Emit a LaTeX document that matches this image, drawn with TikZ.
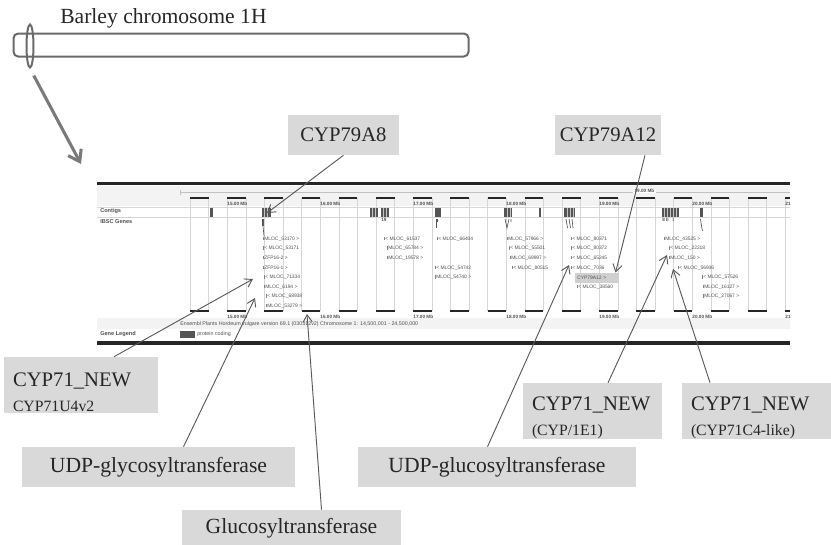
\documentclass[tikz,border=0pt]{standalone}
\usepackage{fontspec}
\setmainfont{Liberation Serif}
\newfontfamily\brfont{Liberation Sans}
\usetikzlibrary{arrows.meta,calc,shapes.geometric}
\newdimen\pxu
\pxu=0.75pt
\definecolor{boxgray}{HTML}{D9D9D9}
\definecolor{txtgray}{HTML}{262626}
\definecolor{linegray}{HTML}{5A5A5A}
\definecolor{gridgray}{HTML}{D6D6D6}
\definecolor{brtext}{HTML}{505050}
\definecolor{contig}{HTML}{555555}
\definecolor{chromgray}{HTML}{6A6A6A}
\definecolor{bandgray}{HTML}{F3F3F3}
\definecolor{hlgray}{HTML}{D0D0D0}
\newcommand\genelab[4]{%
  \draw[genetick] (#2-1.2,#3-2.2) -- (#2-1.2,#3+1.2);
  \node[gene] (#1) at (#2,#3) {#4};}
\begin{document}
\begin{tikzpicture}[x=0.75pt,y=-0.75pt,
  callout/.style={fill=boxgray, text=txtgray, inner sep=0pt, font=\fontsize{16.2}{19}\selectfont},
  cypfont/.style={font=\fontsize{15.5}{18}\selectfont},
  twoline/.style={fill=boxgray, text=txtgray, inner ysep=0pt, inner xsep=9\pxu, align=left, font=\fontsize{15.5}{18.5}\selectfont},
  conn/.style={draw=linegray, line width=0.7pt, -{Straight Barb[length=5.5pt,width=7pt,line width=0.7pt]}},
  gene/.style={font=\brfont\fontsize{3.7}{4}\selectfont, text=brtext, inner sep=0pt, anchor=west},
  genetick/.style={draw=brtext!70, line width=0.25pt},
  mblab/.style={font=\brfont\bfseries\fontsize{3.5}{4}\selectfont, text=brtext, inner sep=0pt, anchor=west},
  tracklab/.style={font=\brfont\bfseries\fontsize{4.2}{5}\selectfont, text=brtext, inner sep=0pt, anchor=west},
  scalebar/.style={draw=black!85, line width=2pt},
  frame/.style={draw=black!85, line width=2.3pt},
  genemark/.style={draw=contig, line width=0.5pt},
]
\useasboundingbox (0,0) rectangle (831,544);

% ---------- chromosome ----------
\node[anchor=base west, text=txtgray, inner sep=0pt, font=\fontsize{16.2}{19}\selectfont] (title) at (60,23) {Barley chromosome 1H};
\node[draw=chromgray, line width=1.5pt, rounded corners=3.5pt, minimum width=455\pxu, minimum height=23\pxu, inner sep=0pt] (chrom) at (241,45) {};
\node[draw=chromgray, line width=1.5pt, ellipse, minimum width=7\pxu, minimum height=43\pxu, inner sep=0pt] (locus) at (30,46) {};
\coordinate (zoomtip) at (81,164);
\draw[draw=chromgray!90, line width=2.3pt, -{Straight Barb[length=8pt,width=11pt,line width=2.3pt]}, shorten <=6pt] (locus.south) -- (zoomtip);

% ---------- genome browser ----------
\fill[bandgray] (97,186) rectangle (790,206);
\fill[bandgray] (97,318) rectangle (790,329);
\foreach \j in {0,...,32} \draw[gridgray, line width=0.35pt] ({190+18.6*\j},198) -- ({190+18.6*\j},311);
\draw[gridgray, line width=0.3pt] (97,207) -- (790,207) (97,217) -- (790,217);
\draw[gridgray!90!black, line width=0.4pt] (180,192) -- (790,192) (180,189.5) -- (180,194.5);
\node[mblab, fill=white, inner xsep=1pt] (mb19top) at (633,191) {19.00 Mb};

\foreach \yy in {198,311} {
  \foreach \k in {0,...,15} \draw[scalebar] ({190+37.2*\k},\yy) -- ({208.6+37.2*\k},\yy);
  \draw[scalebar] (785.2,\yy) -- (790,\yy);
}
\foreach \yy/\nm in {204/t,317/b} {
  \foreach \m in {0,...,5} {
    \pgfmathtruncatemacro\mbv{15+\m}
    \node[mblab] (mb\nm\m) at ({227.2+93*\m},\yy) {\mbv.00 Mb};
  }
  \node[mblab] (mb\nm6) at (785.2,\yy) {21};
}
\draw[frame] (97,183.5) -- (790,183.5);
\draw[frame] (97,343) -- (790,343);

\node[tracklab] (lcontigs) at (100,211.5) {Contigs};
\node[tracklab] (libsc) at (100,221.5) {IBSC Genes};
\node[tracklab] (llegend) at (100,334) {Gene Legend};

% contigs
\foreach \a/\b in {210/212.5, 262/271, 370/378, 381/389, 435/441, 504/512, 539/541, 564/575, 662/679, 700/703}
  \fill[contig] (\a,208) rectangle (\b,216.5);
\foreach \s in {264.5,267.5,372.5,375.5,383.5,386.5,507,510,567,570,573,664.5,667.5,670.5,673.5,676.5}
  \draw[white!65!contig, line width=0.45pt] (\s,208) -- (\s,216.5);

% IBSC gene marks
\fill[contig] (262,219) rectangle (264.2,226);
\draw[genemark] (263,226) -- (264,236);
\node[mblab] (n19) at (381,219.5) {19};
\draw[genemark] (436,219) -- (436,228) (437.8,219) -- (437.8,222);
\draw[genemark] (505,219) -- (507,228) -- (509,219) (511,219) -- (511,222);
\draw[genemark] (566,219) -- (567.5,228) (569,219) -- (570.5,228) (572,219) -- (573,228);
\node[mblab] (n8) at (662,219.5) {8 II\ \ \ I};
\draw[genemark] (700.5,219) -- (701.5,226) -- (702.5,231);

% gene labels
\genelab{ga1}{264}{239}{MLOC\_53170 >}
\genelab{ga2}{264}{248.6}{< MLOC\_53171}
\genelab{ga3}{264}{258.2}{ZFP16-2 >}
\genelab{ga4}{264}{267.8}{ZFP16-1 >}
\genelab{ga5}{265}{277.4}{< MLOC\_71334}
\genelab{ga6}{265}{287}{MLOC\_6194 >}
\genelab{ga7}{267}{296.6}{< MLOC\_68938}
\genelab{ga8}{267}{306.2}{MLOC\_53279 >}
\genelab{gb1}{385}{239}{< MLOC\_61537}
\genelab{gb2}{388}{248.6}{MLOC\_65784 >}
\genelab{gb3}{388}{258.2}{MLOC\_19578 >}
\genelab{gc1}{438}{239}{< MLOC\_66404}
\genelab{gc4}{436}{267.8}{< MLOC\_54742}
\genelab{gc5}{436}{277.4}{MLOC\_54740 >}
\genelab{gd1}{508}{239}{MLOC\_57966 >}
\genelab{gd2}{510}{248.6}{< MLOC\_55501}
\genelab{gd3}{511}{258.2}{MLOC\_69997 >}
\genelab{gd4}{513}{267.8}{< MLOC\_80515}
\genelab{ge1}{572}{239}{< MLOC\_80371}
\genelab{ge2}{572}{248.6}{< MLOC\_80372}
\genelab{ge3}{572}{258.2}{< MLOC\_65245}
\genelab{ge4}{572}{267.8}{< MLOC\_7036}
\node[gene, fill=hlgray, minimum height=10\pxu, text width=40\pxu, inner xsep=2\pxu, align=left] (cyphl) at (575,277.8) {CYP79A12 >};
\genelab{ge6}{578}{287}{< MLOC\_38560}
\genelab{gf1}{665}{239}{MLOC\_43525 >}
\genelab{gf2}{670}{248.6}{< MLOC\_22218}
\genelab{gf3}{670}{258.2}{MLOC\_150 >}
\genelab{gf4}{679}{267.8}{< MLOC\_56936}
\genelab{gf5}{703}{277.4}{< MLOC\_57526}
\genelab{gf6}{704}{287}{MLOC\_16127 >}
\genelab{gf7}{704}{296.6}{MLOC\_27067 >}

\node[gene, font=\brfont\fontsize{4}{5}\selectfont] (ens) at (180,324) {Ensembl Plants Hordeum vulgare version 69.1 (030312v2) Chromosome 1: 14,500,001 - 24,500,000};
\fill[contig] (180,330.5) rectangle (195,337.5);
\node[gene, font=\brfont\fontsize{4}{5}\selectfont] (legtext) at (197,334) {protein coding};

% arrow targets inside the browser
\coordinate (tA8) at (267,213);
\coordinate (t71a) at (253,279);
\coordinate (tgly) at (255,298);
\coordinate (tglu) at (307,314);
\coordinate (tudpglu) at (569,265);
\coordinate (t71b) at (667,255);
\coordinate (t71c) at (673,269);

% ---------- callouts ----------
\node[callout, cypfont, minimum width=111\pxu, minimum height=40\pxu] (cyp79a8) at (343.5,135) {CYP79A8};
\node[callout, cypfont, minimum width=106\pxu, minimum height=40\pxu] (cyp79a12) at (608,135) {CYP79A12};
\node[twoline, minimum width=154\pxu, minimum height=56\pxu, text width=136\pxu] (cyp71a) at (81,385) {\rule{0pt}{21.5pt}CYP71\_NEW\\{\fontsize{11.8}{18.5}\selectfont CYP71U4v2}};
\node[callout, minimum width=273\pxu, minimum height=40\pxu] (udpgly) at (158.5,467) {UDP-glycosyltransferase};
\node[callout, minimum width=219\pxu, minimum height=36\pxu] (gluco) at (291.5,528) {Glucosyltransferase};
\node[callout, minimum width=278\pxu, minimum height=40\pxu] (udpglu) at (497,467) {UDP-glucosyltransferase};
\node[twoline, minimum width=139\pxu, minimum height=56\pxu, text width=121\pxu] (cyp71b) at (592.5,411) {\rule{0pt}{20pt}CYP71\_NEW\\{\fontsize{11.8}{18.5}\selectfont (CYP/1E1)}};
\node[twoline, minimum width=149\pxu, minimum height=56\pxu, text width=131\pxu] (cyp71c) at (756.5,411) {\rule{0pt}{20pt}CYP71\_NEW\\{\fontsize{11.8}{18.5}\selectfont (CYP71C4-like)}};

% ---------- connectors ----------
\draw[conn] (cyp79a8.south) -- (tA8);
\draw[conn] ($(cyp79a12.south)+(37,0)$) -- ($(cyphl.north east)+(-4,0)$);
\draw[conn] ($(cyp71a.north)+(33,0)$) -- (t71a);
\draw[conn] ($(udpgly.north)+(25,0)$) -- (tgly);
\draw[conn] ($(gluco.north)+(30,0)$) -- (tglu);
\draw[conn] ($(udpglu.north)+(-9.5,0)$) -- (tudpglu);
\draw[conn] ($(cyp71b.north)+(15.5,0)$) -- (t71b);
\draw[conn] ($(cyp71c.north)+(-46.5,0)$) -- (t71c);
\end{tikzpicture}
\end{document}
